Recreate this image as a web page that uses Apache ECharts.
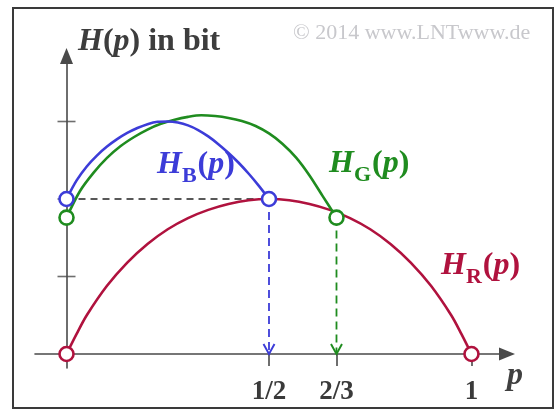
<!DOCTYPE html>
<html>
<head>
<meta charset="utf-8">
<script src="https://cdn.jsdelivr.net/npm/echarts@6/dist/echarts.min.js"></script>
<style>
  html, body { margin: 0; padding: 0; background: #fff; }
  #chart { width: 555px; height: 410px; }
</style>
</head>
<body>
<div id="chart"></div>
<script>
// H_R(p): binary entropy, p from 0 to 1
const redP = [0, 0.025, 0.05, 0.1, 0.15, 0.2, 0.25, 0.3, 0.35, 0.4, 0.45, 0.5,
              0.55, 0.6, 0.65, 0.7, 0.75, 0.8, 0.85, 0.9, 0.95, 0.975, 1];
const redH = [0, 0.13, 0.25, 0.44, 0.59, 0.71, 0.805, 0.877, 0.93, 0.968, 0.992, 1.00,
              0.992, 0.968, 0.93, 0.877, 0.805, 0.71, 0.59, 0.44, 0.25, 0.13, 0];

// H_B(p): p from 0 to 1/2
const blueP = [0, 0.025, 0.05, 0.075, 0.1, 0.125, 0.15, 0.175, 0.2, 0.225, 0.25,
               0.275, 0.3, 0.325, 0.35, 0.375, 0.4, 0.425, 0.45, 0.475, 0.5];
const blueH = [1.00, 1.12, 1.21, 1.28, 1.338, 1.386, 1.426, 1.458, 1.483, 1.498, 1.50,
               1.493, 1.475, 1.445, 1.404, 1.354, 1.297, 1.234, 1.163, 1.085, 1.00];

// H_G(p): p from 0 to 2/3
const greenP = [0, 0.033, 0.067, 0.1, 0.133, 0.167, 0.2, 0.233, 0.267, 0.3, 0.333,
                0.367, 0.4, 0.433, 0.467, 0.5, 0.533, 0.567, 0.6, 0.633, 2 / 3];
const greenH = [0.88, 1.05, 1.17, 1.265, 1.34, 1.40, 1.448, 1.485, 1.512, 1.53, 1.54,
                1.535, 1.523, 1.503, 1.471, 1.423, 1.357, 1.267, 1.152, 1.017, 0.88];

// axis ticks
const xTickValues = [0.5, 2 / 3, 1];
const xTickLabels = ['1/2', '2/3', '1'];
const yTickValues = [0.5, 1.0, 1.5];

const SERIF = '"Liberation Serif", "Times New Roman", serif';
const AXIS = '#4a4a4a';
const RED = '#b0123e';
const BLUE = '#3c3cd8';
const GREEN = '#1f8c1f';

const pts = (xs, ys) => xs.map((x, i) => [x, ys[i]]);
const ends = (xs, ys) => [[xs[0], ys[0]], [xs[xs.length - 1], ys[ys.length - 1]]];

// dashed drop line with an open arrow head on the p axis
function dropLine(color, x, y) {
  return {
    type: 'line',
    symbol: 'none',
    z: 3,
    lineStyle: { color: color, width: 1.8, type: [8, 5] },
    data: [
      { value: [x, y] },
      {
        value: [x, 0],
        symbol: 'path://M0,0L5,9L10,0',
        symbolSize: [11, 10],
        symbolOffset: [0, '-50%'],
        itemStyle: { color: 'rgba(0,0,0,0)', borderColor: color, borderWidth: 1.8 }
      }
    ],
    silent: true
  };
}

function circles(color, data) {
  return {
    type: 'scatter',
    z: 10,
    symbol: 'circle',
    symbolSize: 14,
    itemStyle: { color: '#fff', borderColor: color, borderWidth: 2.6, opacity: 1 },
    data: data
  };
}

function curve(color, data) {
  return {
    type: 'line',
    smooth: 0.3,
    symbol: 'none',
    z: 5,
    lineStyle: { color: color, width: 2.6 },
    data: data
  };
}

function label(sub, color, left, top) {
  const main = { fontFamily: SERIF, fontSize: 32, fontWeight: 'bold', color: color, lineHeight: 32, verticalAlign: 'top' };
  return {
    text: '{h|H}{s|' + sub + '}{n|(}{h|p}{n|)}',
    left: left, top: top, padding: 0,
    textStyle: {
      rich: {
        h: Object.assign({}, main, { fontStyle: 'italic' }),
        n: Object.assign({}, main, { fontStyle: 'normal' }),
        s: { fontFamily: SERIF, fontSize: 22, fontWeight: 'bold', color: color, lineHeight: 22, verticalAlign: 'top', padding: [16, 1, 0, 0] }
      }
    }
  };
}

const titleMain = { fontFamily: SERIF, fontSize: 32, fontWeight: 'bold', color: '#3d3d3d', lineHeight: 32, verticalAlign: 'top' };

const chart = echarts.init(document.getElementById('chart'), null, { renderer: 'canvas' });
chart.setOption({
  animation: false,
  backgroundColor: '#fff',
  grid: { left: 35, top: 56, width: 472, height: 312, outerBoundsMode: 'none', containLabel: false },
  title: [
    {
      text: '{i|H}{n|(}{i|p}{n|) in bit}',
      left: 78, top: 26, padding: 0,
      textStyle: {
        rich: {
          i: Object.assign({}, titleMain, { fontStyle: 'italic' }),
          n: Object.assign({}, titleMain, { fontStyle: 'normal' })
        }
      }
    },
    {
      text: '© 2014 www.LNTwww.de',
      left: 293, top: 22, padding: 0,
      textStyle: { fontFamily: SERIF, fontSize: 22, fontWeight: 'normal', color: '#c8c8cc' }
    },
    label('B', BLUE, 157, 149),
    label('G', GREEN, 329, 148),
    label('R', RED, 441, 250),
    {
      text: 'p',
      left: 507, top: 360, padding: 0,
      textStyle: { fontFamily: SERIF, fontSize: 32, fontWeight: 'bold', fontStyle: 'italic', color: '#404040' }
    }
  ],
  graphic: [
    {
      type: 'rect',
      shape: { x: 13, y: 8, width: 540, height: 400 },
      style: { fill: 'none', stroke: '#3a3a3a', lineWidth: 2 },
      silent: true,
      z: 100
    }
  ],
  xAxis: {
    type: 'value',
    min: -0.0778,
    max: 1.0877,
    axisLine: {
      onZero: true,
      symbol: ['none', 'triangle'],
      symbolSize: [13, 16],
      lineStyle: { color: AXIS, width: 1.6 }
    },
    axisTick: { show: true, customValues: xTickValues, length: 12, lineStyle: { color: AXIS, width: 1.6 } },
    axisLabel: {
      customValues: xTickValues,
      formatter: function (v) {
        const i = xTickValues.findIndex(t => Math.abs(t - v) < 1e-6);
        return i >= 0 ? xTickLabels[i] : '';
      },
      margin: 11,
      fontFamily: SERIF, fontSize: 27, fontWeight: 'bold', color: '#3a3a3a'
    },
    splitLine: { show: false }
  },
  yAxis: {
    type: 'value',
    min: -0.0903,
    max: 1.9226,
    axisLine: {
      onZero: true,
      symbol: ['none', 'triangle'],
      symbolSize: [13, 16],
      lineStyle: { color: AXIS, width: 1.6 }
    },
    axisTick: { show: false },
    axisLabel: { show: false },
    splitLine: { show: false }
  },
  series: [
    // tick marks crossing the H axis
    {
      type: 'scatter',
      symbol: 'rect',
      symbolSize: [18, 1.6],
      z: 1,
      itemStyle: { color: AXIS },
      silent: true,
      data: yTickValues.map(v => [0, v])
    },
    {
      type: 'line',
      symbol: 'none',
      z: 2,
      lineStyle: { color: '#222', width: 1.6, type: [7, 5] },
      data: [[blueP[0], blueH[0]], [blueP[blueP.length - 1], blueH[blueH.length - 1]]]
    },
    dropLine(BLUE, blueP[blueP.length - 1], blueH[blueH.length - 1]),
    dropLine(GREEN, greenP[greenP.length - 1], greenH[greenH.length - 1]),
    curve(RED, pts(redP, redH)),
    curve(GREEN, pts(greenP, greenH)),
    curve(BLUE, pts(blueP, blueH)),
    circles(RED, ends(redP, redH)),
    circles(GREEN, ends(greenP, greenH)),
    circles(BLUE, ends(blueP, blueH))
  ]
});
</script>
</body>
</html>
